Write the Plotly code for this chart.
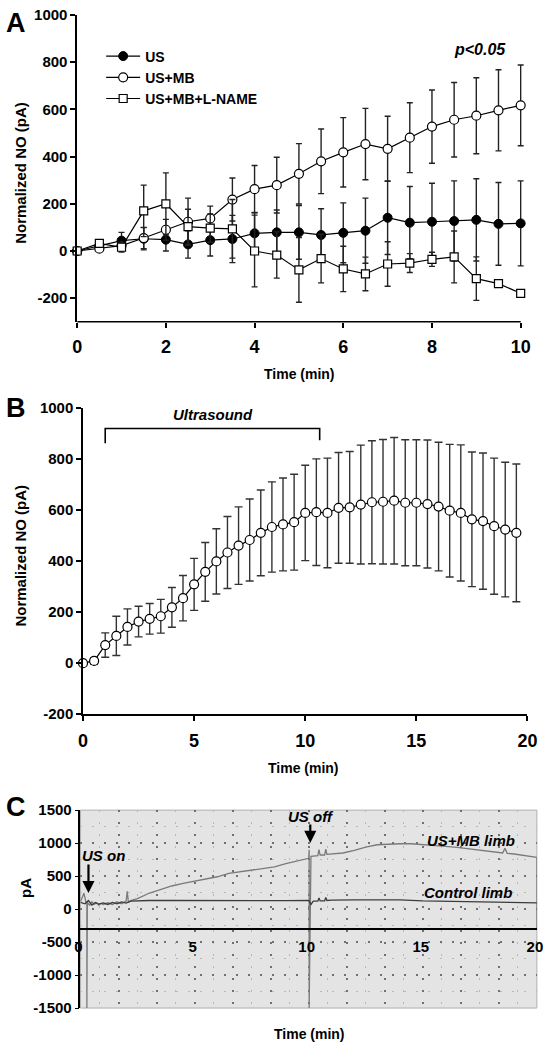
import plotly.graph_objects as go

W, H = 553, 1050
FONT = "Liberation Sans, Arial, Helvetica, sans-serif"


def fx(px):
    return px / W


def fy(py):
    return 1 - py / H


# ---------------- Panel A data ----------------
time_a = [0, 0.5, 1, 1.5, 2, 2.5, 3, 3.5, 4, 4.5, 5, 5.5, 6, 6.5, 7, 7.5, 8, 8.5, 9, 9.5, 10]
us_mean = [0, 22, 44, 52, 48, 28, 46, 51, 75, 79, 79, 68, 77, 86, 141, 120, 124, 127, 132, 115, 117]
us_err = [0, 15, 35, 47, 48, 58, 67, 100, 88, 95, 114, 111, 127, 138, 156, 153, 163, 170, 174, 175, 180]
usmb_mean = [0, 10, 23, 55, 90, 124, 138, 218, 262, 279, 327, 380, 418, 453, 433, 480, 527, 556, 573, 596, 617]
usmb_err = [0, 10, 15, 45, 44, 100, 52, 91, 100, 118, 128, 137, 147, 151, 138, 148, 155, 158, 161, 172, 171]
lname_mean = [0, 32, 16, 170, 200, 103, 97, 94, 0, -17, -80, -32, -76, -97, -55, -51, -35, -25, -117, -138, -179]
lname_err = [0, 12, 20, 109, 131, 74, 60, 124, 152, 98, 137, 103, 96, 71, 94, 40, 30, 110, 92, 10, 12]
a_xticks = [0, 2, 4, 6, 8, 10]
a_yticks = [-200, 0, 200, 400, 600, 800, 1000]

# ---------------- Panel B data ----------------
time_b = [0, 0.5, 1, 1.5, 2, 2.5, 3, 3.5, 4, 4.5, 5, 5.5, 6, 6.5, 7, 7.5, 8, 8.5, 9, 9.5,
          10, 10.5, 11, 11.5, 12, 12.5, 13, 13.5, 14, 14.5, 15, 15.5, 16, 16.5, 17, 17.5, 18, 18.5, 19, 19.5]
b_mean = [0, 9, 71, 107, 142, 163, 174, 184, 219, 255, 309, 358, 399, 434, 461, 483, 511, 534, 544, 553,
          589, 592, 589, 609, 611, 622, 631, 633, 637, 629, 629, 624, 614, 598, 589, 564, 557, 537, 524, 511]
b_err = [0, 12, 48, 77, 71, 60, 60, 66, 78, 89, 102, 115, 128, 141, 152, 161, 168, 177, 182, 188,
         187, 209, 215, 217, 219, 233, 241, 244, 248, 247, 247, 251, 252, 260, 267, 264, 267, 267, 264, 270]
b_xticks = [0, 5, 10, 15, 20]
b_yticks = [-200, 0, 200, 400, 600, 800, 1000]
us_period = [1.0, 10.65]      # ultrasound bracket (min)
bracket_level = [862, 920, 920, 874]

# ---------------- Panel C data ----------------
mb_t = [0, 0.15, 0.25, 0.28, 0.28, 0.3, 0.4, 0.5, 0.6, 0.7, 0.8, 0.9, 1.0, 1.2, 1.4, 1.6, 1.8, 2.0, 2.05,
        2.1, 2.2, 2.5, 3.0, 3.5, 4.0, 4.5, 5.0, 5.5, 6.0, 6.5, 7.0, 7.5, 8.0, 8.5, 9.0, 9.5, 10.0, 10.02,
        10.02, 10.1, 10.4, 10.45, 10.5, 10.7, 10.75, 10.8, 11, 11.5, 12, 12.5, 13, 13.5, 14, 14.5, 15,
        15.5, 16, 16.5, 17, 17.5, 18, 18.5, 18.6, 18.7, 19, 19.5, 20, 20]
mb_pa = [110, 240, 90, 120, -1500, 100, 60, 110, 70, 95, 60, 85, 70, 95, 70, 110, 80, 120, 270,
         100, 130, 160, 240, 300, 350, 390, 425, 460, 490, 540, 565, 580, 610, 640, 690, 730, 770, 900,
         -1500, 800, 810, 900, 820, 820, 910, 830, 835, 850, 890, 940, 975, 985, 990, 990, 980,
         965, 950, 935, 915, 895, 870, 850, 920, 845, 835, 815, 785, -300]
ctl_t = [0, 0.2, 0.35, 0.5, 0.65, 0.8, 1.0, 1.2, 1.4, 1.6, 1.8, 2.0, 2.2, 2.5, 3, 4, 5, 6, 7, 8, 9, 10,
         10.1, 10.2, 10.4, 10.45, 10.5, 10.7, 10.75, 10.8, 11, 12, 13, 14, 15, 16, 17, 18, 18.5, 19, 20]
ctl_pa = [100, 80, 130, 60, 100, 75, 95, 70, 100, 80, 110, 90, 120, 125, 130, 130, 128, 125, 125, 128, 128, 130,
          70, 120, 120, 170, 125, 125, 175, 130, 135, 140, 145, 140, 125, 118, 110, 100, 100, 98, 95]
c_xlabels = [0, 5, 10, 15, 20]
c_yticks = [-1500, -1000, -500, 0, 500, 1000, 1500]


def hy(v):
    # hyphen-minus labels like the original figure
    return str(v).replace("\u2212", "-")


fig = go.Figure()

err_style = dict(type="data", color="#222222", thickness=1.4, width=3)

fig.add_trace(go.Scatter(
    x=time_a, y=us_mean, name="<b>US</b>", mode="lines+markers",
    line=dict(color="black", width=1.2),
    marker=dict(symbol="circle", size=9, color="black", line=dict(color="black", width=1)),
    error_y=dict(array=us_err, **err_style), xaxis="x", yaxis="y", cliponaxis=False))
fig.add_trace(go.Scatter(
    x=time_a, y=usmb_mean, name="<b>US+MB</b>", mode="lines+markers",
    line=dict(color="black", width=1.2),
    marker=dict(symbol="circle", size=9, color="white", line=dict(color="black", width=1.2)),
    error_y=dict(array=usmb_err, **err_style), xaxis="x", yaxis="y", cliponaxis=False))
fig.add_trace(go.Scatter(
    x=time_a, y=lname_mean, name="<b>US+MB+L-NAME</b>", mode="lines+markers",
    line=dict(color="black", width=1.2),
    marker=dict(symbol="square", size=8, color="white", line=dict(color="black", width=1.2)),
    error_y=dict(array=lname_err, **err_style), xaxis="x", yaxis="y", cliponaxis=False))

# Panel B
fig.add_trace(go.Scatter(
    x=time_b, y=b_mean, mode="lines+markers", showlegend=False,
    line=dict(color="black", width=1.2),
    marker=dict(symbol="circle", size=9, color="white", line=dict(color="black", width=1.2)),
    error_y=dict(array=b_err, type="data", color="#333333", thickness=1.4, width=4),
    xaxis="x2", yaxis="y2", cliponaxis=False))
fig.add_trace(go.Scatter(
    x=[us_period[0], us_period[0], us_period[1], us_period[1]], y=bracket_level,
    mode="lines", showlegend=False, line=dict(color="black", width=1.6),
    xaxis="x2", yaxis="y2", hoverinfo="skip"))

# Panel C
fig.add_trace(go.Scatter(
    x=mb_t, y=mb_pa, mode="lines", showlegend=False,
    line=dict(color="#7a7a7a", width=1.3), xaxis="x3", yaxis="y3"))
fig.add_trace(go.Scatter(
    x=ctl_t, y=ctl_pa, mode="lines", showlegend=False,
    line=dict(color="#3c3c3c", width=1.3), xaxis="x3", yaxis="y3"))

axis_common = dict(linecolor="black", linewidth=1.5, ticks="outside",
                   ticklen=5, tickwidth=1.5, tickcolor="black", showgrid=False,
                   zeroline=False, color="black")

# panel A x-range padded a little on the right so the last error bar is not clipped
a_xmax = 10.12
a_px_per_min = (530 - 73.3) / 10

c_major = [i * 5 / 3 for i in range(13)]
c_minor = [(i + 0.5) * 5 / 3 for i in range(12)]
c_text = [str(int(round(v))) if i % 3 == 0 else "" for i, v in enumerate(c_major)]

fig.update_layout(
    width=W, height=H, margin=dict(l=0, r=0, t=0, b=0),
    paper_bgcolor="white", plot_bgcolor="white",
    font=dict(family=FONT, color="black"),
    showlegend=True,
    legend=dict(x=fx(98), y=fy(32), xanchor="left", yanchor="top",
                bgcolor="rgba(0,0,0,0)", font=dict(size=14, family=FONT),
                itemwidth=34, tracegroupgap=0),
    xaxis=dict(domain=[fx(73.3), fx(73.3 + a_xmax * a_px_per_min)], range=[0, a_xmax], anchor="y",
               showline=False,
               tickvals=a_xticks, tickfont=dict(size=18, weight="bold"),
               ticklabelstandoff=4, **axis_common),
    yaxis=dict(domain=[fy(318), fy(6)], range=[-300, 1000], anchor="x", showline=True,
               tickvals=a_yticks, ticktext=[hy(v) for v in a_yticks],
               tickfont=dict(size=15, weight="bold"), **axis_common),
    xaxis2=dict(domain=[fx(79.3), fx(537)], range=[0, 20], anchor="y2", showline=True,
                tickvals=b_xticks, tickfont=dict(size=18, weight="bold"),
                ticklabelstandoff=4, **axis_common),
    yaxis2=dict(domain=[fy(716.8), fy(405.7)], range=[-200, 1000], anchor="x2", showline=True,
                tickvals=b_yticks, ticktext=[hy(v) for v in b_yticks],
                tickfont=dict(size=15, weight="bold"), **axis_common),
    xaxis3=dict(domain=[fx(76.7), fx(546.7)], range=[0, 20], anchor="free",
                position=fy(935), showline=True, linecolor="black", linewidth=1.6,
                ticks="", tickvals=c_major, ticktext=c_text,
                tickfont=dict(size=15, weight="bold"), ticklabelstandoff=4,
                ticklabelshift=-2,
                showgrid=True, gridcolor="#707070", gridwidth=1.5, griddash="2px,10px",
                minor=dict(tickvals=c_minor, showgrid=True, gridcolor="#b8b8b8",
                           gridwidth=1, griddash="2px,10px", ticks=""),
                zeroline=False),
    yaxis3=dict(domain=[fy(1015.5), fy(814.3)], range=[-1500, 1500], anchor="x3",
                showline=True, linecolor="black", linewidth=1.6, ticks="outside",
                ticklen=4, tickwidth=1.2, tickcolor="black",
                tickvals=c_yticks, ticktext=[hy(v) for v in c_yticks],
                tickfont=dict(size=15, weight="bold"),
                showgrid=True, gridcolor="#707070", gridwidth=1.5, griddash="2px,10px",
                minor=dict(dtick=250, tick0=-1500, showgrid=True, gridcolor="#b8b8b8",
                           gridwidth=1, griddash="2px,10px", ticks=""),
                zeroline=False),
)

# x-axis line of panel A from 0 to 10 only
fig.add_shape(type="line", xref="x", yref="y domain", x0=0, x1=10, y0=0, y1=0,
              line=dict(color="black", width=1.5))
# grey recorder background of panel C
fig.add_shape(type="rect", xref="x3 domain", yref="y3 domain", x0=0, x1=1, y0=0, y1=1,
              fillcolor="#e4e4e4", line=dict(color="#b0b0b0", width=1), layer="below")


def txt(text, px, py, size, rot=0, italic=False, bold=True):
    t = text
    if italic:
        t = "<i>" + t + "</i>"
    if bold:
        t = "<b>" + t + "</b>"
    fig.add_annotation(text=t, x=fx(px), y=fy(py), xref="paper", yref="paper",
                       xanchor="center", yanchor="middle", showarrow=False,
                       textangle=rot, font=dict(size=size, family=FONT, color="black"))


txt("A", 10, 14, 27)
txt("B", 10, 406, 27)
txt("C", 10, 811, 27)
txt("Normalized NO (pA)", 15, 167, 15, rot=-90)
txt("Normalized NO (pA)", 15, 556, 15, rot=-90)
txt("pA", 20, 893, 15, rot=-90)
txt("Time (min)", 302, 371, 14)
txt("Time (min)", 306, 771, 14)
txt("Time (min)", 313, 1042, 14)
txt("p<0.05", 488, 41, 16, italic=True)
txt("Ultrasound", 213, 412, 15, italic=True)
txt("US on", 100, 860, 15, italic=True)
txt("US off", 314, 821, 15, italic=True)
txt("US+MB limb", 479, 845, 15, italic=True)
txt("Control limb", 476, 898, 15, italic=True)

# arrows for US on / US off
fig.add_annotation(x=0.35, y=243, xref="x3", yref="y3", text="", showarrow=True,
                   ax=0, ay=-30, arrowhead=2, arrowsize=1.1, arrowwidth=2.2, arrowcolor="black")
fig.add_annotation(x=10.07, y=1003, xref="x3", yref="y3", text="", showarrow=True,
                   ax=0, ay=-20, arrowhead=2, arrowsize=1.1, arrowwidth=2.2, arrowcolor="black")

fig.write_html("out.html", config={"displayModeBar": False},
               post_script="document.body.style.margin='0';")
